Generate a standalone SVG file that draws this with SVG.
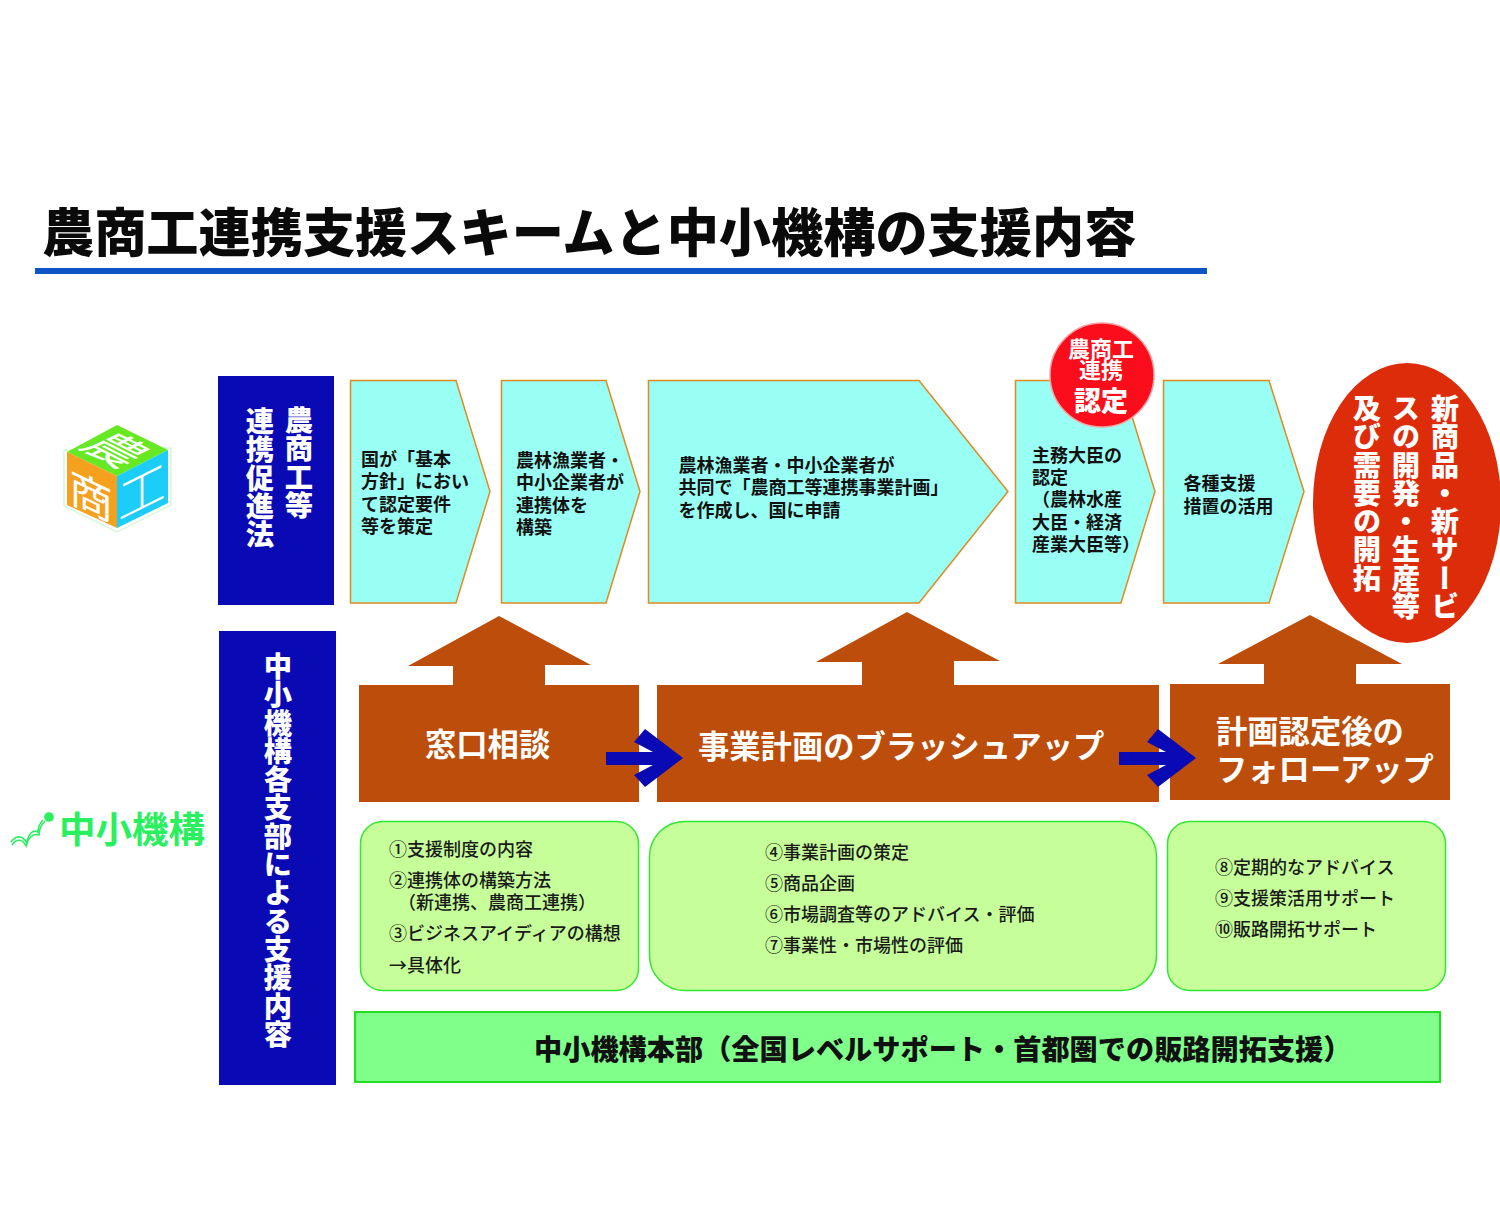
<svg xmlns="http://www.w3.org/2000/svg" width="1500" height="1229" viewBox="0 0 1500 1229">
<style>
text{font-family:"Noto Sans CJK JP","Noto Sans",sans-serif}
.t{font-size:18px;font-weight:700;fill:#111}
.l{font-size:18px;font-weight:500;fill:#1a1a1a}
.v{font-size:28.3px;font-weight:900;fill:#fff;writing-mode:vertical-rl;text-anchor:start}
.b{font-size:31.3px;font-weight:700;fill:#fff}
.p{fill:#99fff4;stroke:#e08a20;stroke-width:1.5}
.g{fill:#c6ff9a;stroke:#2fe82f;stroke-width:1.5}
.br{fill:#bd4d0a}
.nv{fill:#0a0ab4}
.bird{fill:none;stroke:#2af060;stroke-width:1.6}
</style>
<rect width="1500" height="1229" fill="#fff"/>
<g id="title">
<text x="42" y="252" font-size="52.2" font-weight="900" fill="#0a0a0a">農商工連携支援スキームと中小機構の支援内容</text>
<rect x="35" y="268" width="1172" height="6" fill="#0d55c5"/>
</g>
<g id="logo-cube">
<polygon points="64,450 64,506 117,532 171,505 171,448" fill="none" stroke="#d8f7da" stroke-width="1.5"/>
<polygon points="117,425 168,450 117,476 67,452" fill="#66e822"/>
<polygon points="67,452 117,476 117,528 67,505" fill="#f5a01e"/>
<polygon points="117,476 168,450 168,503 117,528" fill="#1ccdfa"/>
<text transform="matrix(1,.5,-1,.5,78,447)" font-size="44" font-weight="400" fill="#fff">農</text>
<text transform="matrix(1,.48,0,.95,69,501)" font-size="44" font-weight="400" fill="#fff">商</text>
<text transform="matrix(1,-.5,0,1,118,521)" font-size="48" font-weight="300" fill="#fff">工</text>
</g>
<g id="logo-smrj">
<circle cx="49" cy="817" r="4.8" fill="#2af060"/>
<path class="bird" d="M11 842C15 836 22 834 27 843C28 834 33 829 38 832C38 827 40 823 43 820"/>
<path class="bird" d="M12 845C16 839 22 838 26 846C28 838 33 833 39 835C39 830 41 825 45 821"/>
<text x="59" y="843" font-size="36.5" font-weight="700" fill="#2af060">中小機構</text>
</g>
<g id="law">
<rect x="218" y="376" width="116" height="229" class="nv"/>
<text x="299" y="406" class="v">農商工等</text>
<text x="260" y="407" class="v">連携促進法</text>
</g>
<g id="step1">
<polygon class="p" points="350.5,380.5 456,380.5 490,491.5 456,603 350.5,603"/>
<text class="t"><tspan x="361" y="466">国が「基本</tspan><tspan x="361" y="488">方針」におい</tspan><tspan x="361" y="511">て認定要件</tspan><tspan x="361" y="533">等を策定</tspan></text>
</g>
<g id="step2">
<polygon class="p" points="501.5,380.5 606,380.5 640,491.5 606,603 501.5,603"/>
<text class="t"><tspan x="516" y="467">農林漁業者・</tspan><tspan x="516" y="489">中小企業者が</tspan><tspan x="516" y="512">連携体を</tspan><tspan x="516" y="534">構築</tspan></text>
</g>
<g id="step3">
<polygon class="p" points="648.5,380.5 919,380.5 1008,491.5 919,603 648.5,603"/>
<text class="t"><tspan x="678.5" y="472">農林漁業者・中小企業者が</tspan><tspan x="678.5" y="494">共同で「農商工等連携事業計画」</tspan><tspan x="678.5" y="517">を作成し、国に申請</tspan></text>
</g>
<g id="step4">
<polygon class="p" points="1015.5,380.5 1121,380.5 1155,491.5 1121,603 1015.5,603"/>
<text class="t"><tspan x="1032" y="462">主務大臣の</tspan><tspan x="1032" y="484">認定</tspan><tspan x="1032" y="506">（農林水産</tspan><tspan x="1032" y="529">大臣・経済</tspan><tspan x="1032" y="551">産業大臣等）</tspan></text>
</g>
<g id="badge">
<circle cx="1102" cy="375" r="52" fill="#fb0d1b" stroke="#f8a0a0" stroke-width="1.5"/>
<text x="1101" y="357" font-size="22" font-weight="700" fill="#fff" text-anchor="middle">農商工</text>
<text x="1101" y="378" font-size="22" font-weight="700" fill="#fff" text-anchor="middle">連携</text>
<text x="1101" y="411" font-size="27" font-weight="900" fill="#fff" text-anchor="middle">認定</text>
</g>
<g id="step5">
<polygon class="p" points="1163.5,380.5 1269,380.5 1304,491.5 1269,603 1163.5,603"/>
<text class="t"><tspan x="1183.5" y="490">各種支援</tspan><tspan x="1183.5" y="513">措置の活用</tspan></text>
</g>
<g id="result">
<ellipse cx="1407" cy="503" rx="94" ry="140" fill="#dd2c0a"/>
<text x="1445" y="394" class="v">新商品・新サービ</text>
<text x="1406" y="394" class="v">スの開発・生産等</text>
<text x="1367" y="394" class="v">及び需要の開拓</text>
</g>
<g id="support-label">
<rect x="219" y="631" width="117" height="454" class="nv"/>
<text x="278" y="652" class="v">中小機構各支部による支援内容</text>
</g>
<g id="consult">
<polygon class="br" points="359,685 453,685 453,666 408,666 499,616 591,665 545,665 545,685 639,685 639,802 359,802"/>
<text x="425" y="756" class="b">窓口相談</text>
</g>
<g id="brushup">
<polygon class="br" points="657,685 862,685 862,662 816,662 907,612 1000,661 954,661 954,685 1159,685 1159,802 657,802"/>
<text x="698" y="758" class="b">事業計画のブラッシュアップ</text>
</g>
<g id="followup">
<polygon class="br" points="1170,684 1264,684 1264,664 1218,664 1310,615 1402,664 1356,664 1356,684 1450,684 1450,800 1170,800"/>
<text class="b"><tspan x="1216" y="743">計画認定後の</tspan><tspan x="1216" y="781">フォローアップ</tspan></text>
</g>
<g id="connectors">
<polygon class="nv" points="606,752 653,752 634,742 645,729 683,758 645,787 634,775 653,765 606,765"/>
<polygon class="nv" points="1119,752 1166,752 1147,742 1158,729 1196,758 1158,787 1147,775 1166,765 1119,765"/>
</g>
<g id="list1">
<rect x="360.5" y="821.5" width="278" height="169" rx="22" class="g"/>
<text class="l"><tspan x="389" y="856">①支援制度の内容</tspan><tspan x="389" y="887">②連携体の構築方法</tspan><tspan x="398" y="909">（新連携、農商工連携）</tspan><tspan x="389" y="940">③ビジネスアイディアの構想</tspan><tspan x="389" y="972">→具体化</tspan></text>
</g>
<g id="list2">
<rect x="649.5" y="821.5" width="507" height="169" rx="35" class="g"/>
<text class="l"><tspan x="765" y="859">④事業計画の策定</tspan><tspan x="765" y="890">⑤商品企画</tspan><tspan x="765" y="921">⑥市場調査等のアドバイス・評価</tspan><tspan x="765" y="952">⑦事業性・市場性の評価</tspan></text>
</g>
<g id="list3">
<rect x="1167.5" y="821.5" width="278" height="169" rx="22" class="g"/>
<text class="l"><tspan x="1215" y="874">⑧定期的なアドバイス</tspan><tspan x="1215" y="905">⑨支援策活用サポート</tspan><tspan x="1215" y="936">⑩販路開拓サポート</tspan></text>
</g>
<g id="hq">
<rect x="355" y="1012" width="1085" height="70" fill="#80ff8a" stroke="#22dd22" stroke-width="2"/>
<text x="534" y="1060" font-size="28.2" font-weight="900" fill="#111">中小機構本部（全国レベルサポート・首都圏での販路開拓支援）</text>
</g>
</svg>
